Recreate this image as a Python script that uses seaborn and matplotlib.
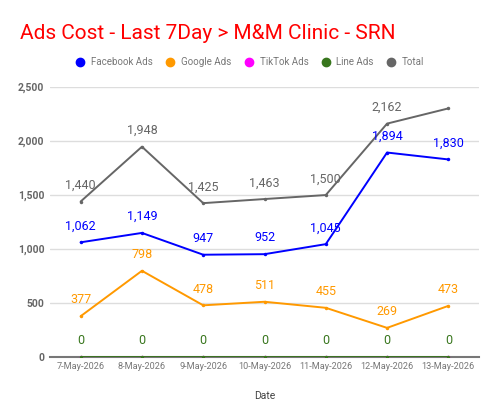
import matplotlib
matplotlib.use("Agg")
import matplotlib.pyplot as plt
import seaborn as sns
import pandas as pd

dates = ["7-May-2026", "8-May-2026", "9-May-2026", "10-May-2026", "11-May-2026", "12-May-2026", "13-May-2026"]
facebook = [1062, 1149, 947, 952, 1045, 1894, 1830]
google = [377, 798, 478, 511, 455, 269, 473]
tiktok = [0, 0, 0, 0, 0, 0, 0]
line_ads = [0, 0, 0, 0, 0, 0, 0]
total = [1440, 1948, 1425, 1463, 1500, 2162, 2303]
series_names = ["Facebook Ads", "Google Ads", "TikTok Ads", "Line Ads", "Total"]
colors = ["#0000ff", "#ff9900", "#ff00ff", "#38761d", "#666666"]
label_colors = {"Facebook Ads": "#0000ff", "Google Ads": "#ff9900", "Line Ads": "#38761d", "Total": "#666666"}
show_labels = {"Facebook Ads": [True]*7, "Google Ads": [True]*7, "TikTok Ads": [False]*7,
               "Line Ads": [True]*7, "Total": [True]*6 + [False]}

sns.set_theme(style="white")
plt.rcParams['font.family'] = ['Roboto', 'DejaVu Sans']

values = [facebook, google, tiktok, line_ads, total]
rows = []
for name, vals in zip(series_names, values):
    for i, (d, v) in enumerate(zip(dates, vals)):
        rows.append({"Date": d, "idx": i, "Series": name, "Value": v})
df = pd.DataFrame(rows)

fig = plt.figure(figsize=(5, 4.15), dpi=100)
ax = fig.add_axes([0.1, 0.14, 0.858, 0.65])

for y in [500, 1000, 1500, 2000, 2500]:
    ax.axhline(y, color="#dddddd", lw=1, zorder=0)

draw_order = ["Total", "Google Ads", "Facebook Ads", "TikTok Ads", "Line Ads"]
palette = dict(zip(series_names, colors))
for name in draw_order:
    sub = df[df.Series == name]
    sns.lineplot(data=sub, x="idx", y="Value", color=palette[name], lw=1.4,
                 marker="o", markersize=2.5, markeredgewidth=0, ax=ax, legend=False, zorder=3)

for name in series_names:
    sub = df[df.Series == name]
    for (_, r), show in zip(sub.iterrows(), show_labels[name]):
        if not show:
            continue
        ax.annotate(f"{r.Value:,}", (r.idx, r.Value), xytext=(0, 7), textcoords="offset points",
                    ha="center", va="bottom", fontsize=9, color=label_colors[name], zorder=5)

ax.set_xlim(-0.5, 6.5)
ax.set_ylim(0, 2500)
ax.set_yticks([0, 500, 1000, 1500, 2000, 2500])
ax.set_yticklabels([f"{v:,}" for v in [0, 500, 1000, 1500, 2000, 2500]], fontsize=7.5,
                   color="#666666", fontweight="bold")
ax.set_xticks(range(len(dates)))
ax.set_xticklabels(dates, fontsize=6.6, color="#777777")
ax.tick_params(axis="both", length=0, pad=4)
ax.set_xlabel("Date", fontsize=7.5, color="#444444", labelpad=14)
ax.set_ylabel("")
for s in ["top", "right", "left"]:
    ax.spines[s].set_visible(False)
ax.spines["bottom"].set_color("#777777")
ax.spines["bottom"].set_linewidth(1.5)

fig.text(0.04, 0.92, "Ads Cost - Last 7Day > M&M Clinic - SRN", fontsize=15, color="#ff0000",
         ha="left", va="center")

from matplotlib.lines import Line2D
handles = [Line2D([], [], marker="o", ls="", color=c, markersize=6) for c in colors]
fig.legend(handles, series_names, loc="center", bbox_to_anchor=(0.5, 0.85), ncol=5, frameon=False,
           fontsize=7, labelcolor="#777777", handletextpad=0.6, columnspacing=1.3, handlelength=1)

fig.savefig("out.png", dpi=100)
